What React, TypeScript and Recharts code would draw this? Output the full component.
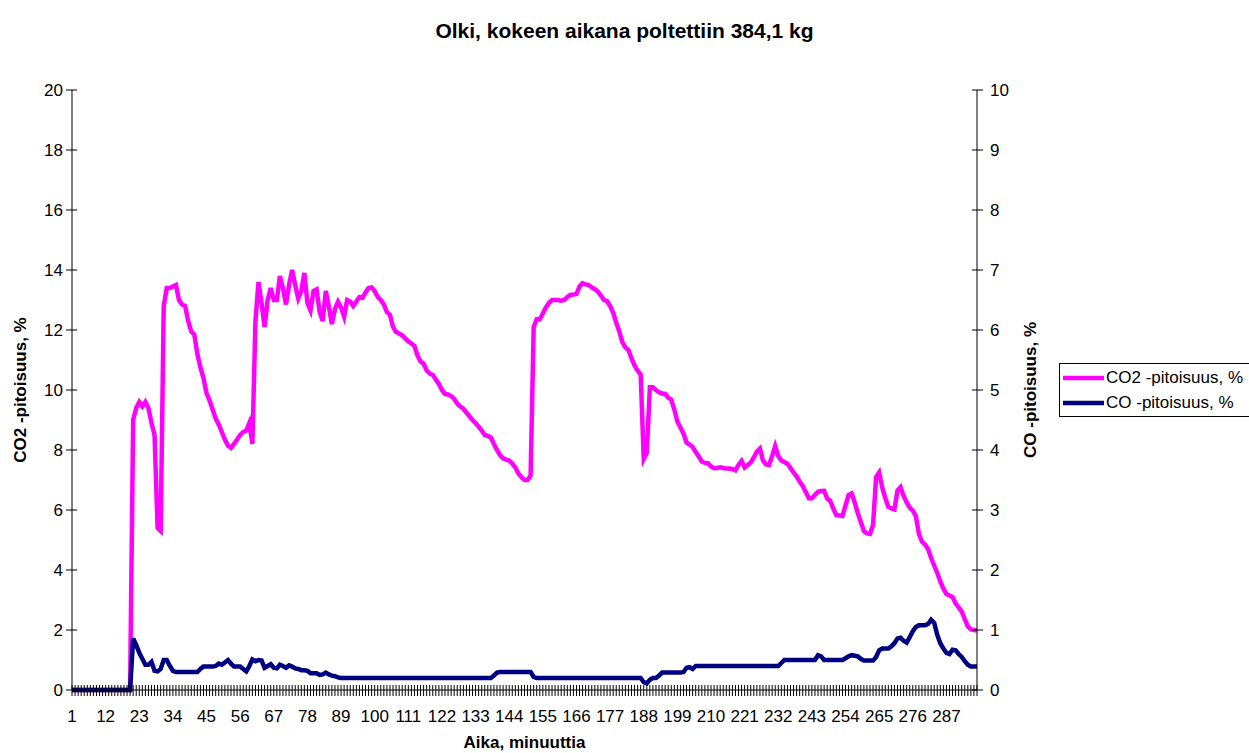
import React from 'react';
import { LineChart, Line, XAxis, YAxis, Legend } from 'recharts';

const FONT = '"Liberation Sans", Arial, Helvetica, sans-serif';

// Categories: minutes 1..297
const minutes: number[] = Array.from({ length: 297 }, (_, i) => i + 1);

// CO2 concentration, % (left axis)
const co2Values: number[] = [
  0, 0, 0, 0, 0, 0, 0, 0, 0, 0,
  0, 0, 0, 0, 0, 0, 0, 0, 0, 0,
  9.0, 9.4, 9.6, 9.45, 9.6, 9.4, 8.9, 8.5, 5.4, 5.3,
  12.8, 13.4, 13.4, 13.45, 13.5, 13.0, 12.85, 12.8, 12.3, 11.95,
  11.85, 11.2, 10.75, 10.4, 9.9, 9.65, 9.35, 9.05, 8.85, 8.6,
  8.35, 8.15, 8.07, 8.2, 8.35, 8.5, 8.6, 8.65, 8.9, 8.2,
  12.3, 13.6, 12.9, 12.1, 13.0, 13.4, 13.0, 13.0, 13.8, 13.4,
  12.85, 13.5, 14.0, 13.5, 13.05, 13.3, 13.9, 12.9, 12.65, 13.3,
  13.35, 12.6, 12.3, 13.3, 12.8, 12.2, 12.7, 12.94, 12.75, 12.45,
  13.0, 12.95, 12.8, 12.95, 13.1, 13.07, 13.25, 13.4, 13.42, 13.3,
  13.1, 13.0, 12.85, 12.6, 12.5, 12.1, 11.93, 11.88, 11.82, 11.72,
  11.62, 11.55, 11.47, 11.15, 10.95, 10.88, 10.65, 10.55, 10.5, 10.35,
  10.2, 10.0, 9.87, 9.85, 9.8, 9.7, 9.55, 9.45, 9.38, 9.25,
  9.12, 9.0, 8.9, 8.78, 8.65, 8.5, 8.47, 8.42, 8.2, 8.0,
  7.83, 7.72, 7.68, 7.65, 7.55, 7.42, 7.22, 7.1, 7.0, 7.0,
  7.15, 12.1, 12.36, 12.36, 12.55, 12.75, 12.9, 13.0, 13.0, 13.0,
  12.98, 13.0, 13.1, 13.17, 13.18, 13.2, 13.45, 13.56, 13.52, 13.5,
  13.42, 13.36, 13.28, 13.15, 13.0, 12.96, 12.8, 12.58, 12.25, 11.95,
  11.6, 11.42, 11.33, 11.05, 10.82, 10.64, 10.52, 7.7, 7.9, 10.09,
  10.09, 10.0, 9.92, 9.88, 9.87, 9.75, 9.68, 9.35, 8.95, 8.75,
  8.55, 8.25, 8.18, 8.1, 7.93, 7.78, 7.62, 7.57, 7.56, 7.45,
  7.39, 7.4, 7.42, 7.4, 7.38, 7.38, 7.37, 7.32, 7.5, 7.64,
  7.42, 7.5, 7.58, 7.75, 7.95, 8.05, 7.65, 7.52, 7.5, 7.8,
  8.13, 7.8, 7.65, 7.6, 7.54, 7.4, 7.25, 7.12, 6.95, 6.8,
  6.6, 6.39, 6.39, 6.5, 6.61, 6.63, 6.64, 6.38, 6.3, 6.05,
  5.83, 5.82, 5.8, 6.15, 6.5, 6.55, 6.25, 5.9, 5.6, 5.3,
  5.22, 5.2, 5.5, 7.1, 7.25, 6.75, 6.4, 6.1, 6.05, 6.02,
  6.65, 6.76, 6.47, 6.25, 6.08, 5.98, 5.8, 5.2, 4.95, 4.85,
  4.7, 4.4, 4.15, 3.9, 3.62, 3.38, 3.2, 3.15, 3.1, 2.89,
  2.75, 2.62, 2.36, 2.12, 2.02, 2.0, 1.98,
];

// CO concentration, % (right axis)
const coValues: number[] = [
  0, 0, 0, 0, 0, 0, 0, 0, 0, 0,
  0, 0, 0, 0, 0, 0, 0, 0, 0, 0,
  0.86, 0.75, 0.62, 0.52, 0.42, 0.42, 0.47, 0.32, 0.31, 0.35,
  0.5, 0.5, 0.4, 0.32, 0.3, 0.3, 0.3, 0.3, 0.3, 0.3,
  0.3, 0.3, 0.35, 0.39, 0.39, 0.39, 0.39, 0.4, 0.44, 0.42,
  0.46, 0.5, 0.44, 0.39, 0.39, 0.39, 0.35, 0.31, 0.4, 0.51,
  0.48, 0.5, 0.49, 0.37, 0.4, 0.43, 0.37, 0.36, 0.42, 0.4,
  0.37, 0.41, 0.39, 0.36, 0.35, 0.33, 0.33, 0.32, 0.28, 0.28,
  0.28, 0.25, 0.26, 0.29, 0.26, 0.24, 0.23, 0.21, 0.2, 0.2,
  0.2, 0.2, 0.2, 0.2, 0.2, 0.2, 0.2, 0.2, 0.2, 0.2,
  0.2, 0.2, 0.2, 0.2, 0.2, 0.2, 0.2, 0.2, 0.2, 0.2,
  0.2, 0.2, 0.2, 0.2, 0.2, 0.2, 0.2, 0.2, 0.2, 0.2,
  0.2, 0.2, 0.2, 0.2, 0.2, 0.2, 0.2, 0.2, 0.2, 0.2,
  0.2, 0.2, 0.2, 0.2, 0.2, 0.2, 0.2, 0.2, 0.24, 0.29,
  0.3, 0.3, 0.3, 0.3, 0.3, 0.3, 0.3, 0.3, 0.3, 0.3,
  0.3, 0.22, 0.2, 0.2, 0.2, 0.2, 0.2, 0.2, 0.2, 0.2,
  0.2, 0.2, 0.2, 0.2, 0.2, 0.2, 0.2, 0.2, 0.2, 0.2,
  0.2, 0.2, 0.2, 0.2, 0.2, 0.2, 0.2, 0.2, 0.2, 0.2,
  0.2, 0.2, 0.2, 0.2, 0.2, 0.2, 0.2, 0.13, 0.11, 0.17,
  0.2, 0.2, 0.24, 0.29, 0.29, 0.29, 0.29, 0.29, 0.29, 0.29,
  0.3, 0.37, 0.38, 0.35, 0.4, 0.4, 0.4, 0.4, 0.4, 0.4,
  0.4, 0.4, 0.4, 0.4, 0.4, 0.4, 0.4, 0.4, 0.4, 0.4,
  0.4, 0.4, 0.4, 0.4, 0.4, 0.4, 0.4, 0.4, 0.4, 0.4,
  0.4, 0.4, 0.45, 0.5, 0.5, 0.5, 0.5, 0.5, 0.5, 0.5,
  0.5, 0.5, 0.5, 0.5, 0.58, 0.56, 0.5, 0.5, 0.5, 0.5,
  0.5, 0.5, 0.5, 0.53, 0.56, 0.58, 0.57, 0.56, 0.52, 0.49,
  0.49, 0.49, 0.49, 0.55, 0.66, 0.69, 0.69, 0.69, 0.73, 0.78,
  0.86, 0.87, 0.82, 0.79, 0.88, 0.98, 1.05, 1.08, 1.08, 1.08,
  1.1, 1.17, 1.12, 0.92, 0.78, 0.69, 0.62, 0.6, 0.67, 0.66,
  0.6, 0.55, 0.48, 0.42, 0.39, 0.39, 0.39,
];

const co2Ticks = [0, 2, 4, 6, 8, 10, 12, 14, 16, 18, 20];
const coTicks = [0, 1, 2, 3, 4, 5, 6, 7, 8, 9, 10];
const LABEL_EVERY = 11;

const TITLE = 'Olki, kokeen aikana poltettiin 384,1 kg';
const X_TITLE = 'Aika, minuuttia';
const CO2_NAME = 'CO2 -pitoisuus, %';
const CO_NAME = 'CO -pitoisuus, %';
const LEGEND_ORDER = [CO2_NAME, CO_NAME];

const data = minutes.map((t, i) => ({ t, co2: co2Values[i], co: coValues[i] }));

const XTick = (props: any) => {
  const { x, y, payload } = props;
  const idx = payload && typeof payload.index === 'number' ? payload.index : props.index;
  return (
    <g>
      <line x1={x} x2={x} y1={y - 5} y2={y + 6} stroke="#000" strokeWidth={1} />
      {idx % LABEL_EVERY === 0 && (
        <text x={x} y={y + 32} textAnchor="middle" fontSize={17} fontFamily={FONT} fill="#000">
          {payload.value}
        </text>
      )}
    </g>
  );
};

const YTickLeft = (props: any) => {
  const { x, y, payload } = props;
  return (
    <g>
      <line x1={x - 6} x2={x + 5} y1={y} y2={y} stroke="#000" strokeWidth={1} />
      <text x={x - 9} y={y + 6} textAnchor="end" fontSize={17} fontFamily={FONT} fill="#000">
        {payload.value}
      </text>
    </g>
  );
};

const YTickRight = (props: any) => {
  const { x, y, payload } = props;
  return (
    <g>
      <line x1={x - 5} x2={x + 6} y1={y} y2={y} stroke="#000" strokeWidth={1} />
      <text x={x + 13} y={y + 6} textAnchor="start" fontSize={17} fontFamily={FONT} fill="#000">
        {payload.value}
      </text>
    </g>
  );
};

const AxisTitle = (props: any) => {
  const { viewBox, text, side } = props;
  const vb = viewBox || {};
  let x = 0;
  let y = 0;
  let rotate = false;
  if (side === 'bottom') {
    x = (vb.x ?? 72) + (vb.width ?? 905) / 2;
    y = (vb.y ?? 690) + 58;
  } else if (side === 'left') {
    x = (vb.x ?? 0) + 26;
    y = (vb.y ?? 90) + (vb.height ?? 600) / 2;
    rotate = true;
  } else {
    x = (vb.x ?? 977) + 59;
    y = (vb.y ?? 90) + (vb.height ?? 600) / 2;
    rotate = true;
  }
  return (
    <text
      x={x}
      y={y}
      transform={rotate ? `rotate(-90, ${x}, ${y})` : undefined}
      textAnchor="middle"
      fontSize={17}
      fontWeight="bold"
      fontFamily={FONT}
      fill="#000"
    >
      {text}
    </text>
  );
};

const LegendBox = (props: any) => {
  const payload = [...(props.payload || [])].sort(
    (a: any, b: any) => LEGEND_ORDER.indexOf(a.value) - LEGEND_ORDER.indexOf(b.value)
  );
  return (
    <div
      style={{
        border: '1px solid #000',
        background: '#fff',
        width: 200,
        padding: '1px 0 1px 3px',
        boxSizing: 'border-box',
        fontFamily: FONT,
        fontSize: 17,
        color: '#000',
      }}
    >
      {payload.map((p: any) => (
        <div key={p.value} style={{ display: 'flex', alignItems: 'center', height: 25, whiteSpace: 'nowrap' }}>
          <svg width={41} height={6} style={{ display: 'block' }}>
            <line x1={0} x2={41} y1={3} y2={3} stroke={p.color} strokeWidth={4.5} />
          </svg>
          <span style={{ marginLeft: 2 }}>{p.value}</span>
        </div>
      ))}
    </div>
  );
};

export default function App() {
  return (
    <div
      style={{
        position: 'absolute',
        left: 0,
        top: 0,
        width: 1249,
        height: 753,
        overflow: 'hidden',
        background: '#fff',
        fontFamily: FONT,
      }}
    >
      <div
        style={{
          position: 'absolute',
          left: 0,
          top: 20,
          width: 1249,
          textAlign: 'center',
          fontSize: 21,
          lineHeight: '21px',
          fontWeight: 'bold',
          color: '#000',
          zIndex: 2,
        }}
      >
        {TITLE}
      </div>
      <LineChart
        width={1249}
        height={753}
        data={data}
        margin={{ top: 90, right: 212, bottom: 23, left: 0 }}
      >
        <XAxis
          dataKey="t"
          type="category"
          interval={0}
          tickSize={0}
          tickMargin={0}
          tickLine={false}
          axisLine={{ stroke: '#000', strokeWidth: 1 }}
          tick={<XTick />}
          height={40}
          label={<AxisTitle side="bottom" text={X_TITLE} />}
        />
        <YAxis
          yAxisId="co2"
          orientation="left"
          domain={[0, 20]}
          ticks={co2Ticks}
          interval={0}
          width={72}
          tickSize={0}
          tickMargin={0}
          tickLine={false}
          axisLine={{ stroke: '#000', strokeWidth: 1 }}
          tick={<YTickLeft />}
          label={<AxisTitle side="left" text={CO2_NAME} />}
        />
        <YAxis
          yAxisId="co"
          orientation="right"
          domain={[0, 10]}
          ticks={coTicks}
          interval={0}
          width={60}
          tickSize={0}
          tickMargin={0}
          tickLine={false}
          axisLine={{ stroke: '#000', strokeWidth: 1 }}
          tick={<YTickRight />}
          label={<AxisTitle side="right" text={CO_NAME} />}
        />
        <Legend
          layout="vertical"
          align="center"
          verticalAlign="middle"
          content={<LegendBox />}
          wrapperStyle={{ left: 1059, top: 363, width: 200, height: 'auto' }}
        />
        <Line
          yAxisId="co2"
          type="linear"
          dataKey="co2"
          name={CO2_NAME}
          stroke="#FF00FF"
          strokeWidth={4.5}
          dot={false}
          activeDot={false}
          isAnimationActive={false}
        />
        <Line
          yAxisId="co"
          type="linear"
          dataKey="co"
          name={CO_NAME}
          stroke="#000080"
          strokeWidth={4.5}
          dot={false}
          activeDot={false}
          isAnimationActive={false}
        />
      </LineChart>
    </div>
  );
}
